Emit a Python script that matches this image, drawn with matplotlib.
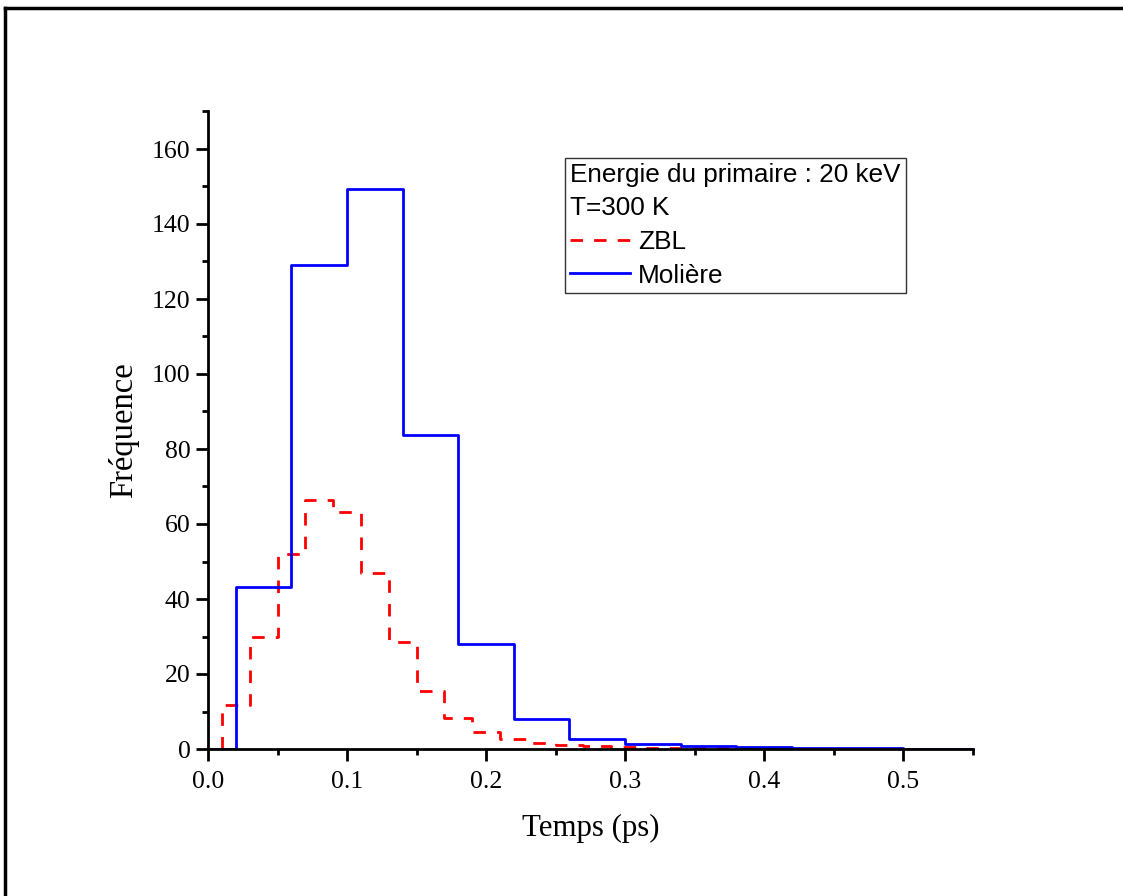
import matplotlib

matplotlib.use("Agg")
import matplotlib.pyplot as plt
from matplotlib.lines import Line2D
from matplotlib.ticker import MultipleLocator

# Molière histogram: bin edges (ps) and counts
moliere_edges = [0.00, 0.02, 0.06, 0.10, 0.14, 0.18, 0.22, 0.26, 0.30, 0.34,
                 0.38, 0.42, 0.46, 0.50, 0.55]
moliere_counts = [0.0, 43.2, 129.0, 149.3, 83.8, 28.1, 8.0, 2.8, 1.3, 0.8,
                  0.45, 0.25, 0.15, 0.1]

# ZBL histogram
zbl_edges = [0.01, 0.03, 0.05, 0.07, 0.09, 0.11, 0.13, 0.15, 0.17, 0.19,
             0.21, 0.23, 0.25, 0.27, 0.29, 0.31, 0.33, 0.35, 0.37, 0.39, 0.41]
zbl_counts = [11.8, 30.0, 52.0, 66.5, 63.2, 47.0, 28.5, 15.6, 8.2, 4.6,
              2.7, 1.7, 1.1, 0.8, 0.5, 0.35, 0.25, 0.2, 0.15, 0.1]

legend_title = "Energie du primaire : 20 keV\nT=300 K"


def step_xy(edges, counts):
    xs, ys = [edges[0]], [0.0]
    for i, c in enumerate(counts):
        xs += [edges[i], edges[i + 1]]
        ys += [c, c]
    return xs, ys


W, H = 1123, 896
fig = plt.figure(figsize=(W / 100, H / 100), dpi=100)
ax = fig.add_axes([208 / W, 1 - 749 / H, (972.5 - 208) / W, (749 - 111.5) / H])

zx, zy = step_xy(zbl_edges, zbl_counts)
mx, my = step_xy(moliere_edges, moliere_counts)
ax.plot(zx, zy, color="#ff0000", lw=2, ls=(0, (4.5, 4)), label="ZBL")
ax.plot(mx, my, color="#0000ff", lw=2, label="Molière")

ax.set_xlim(0, 0.55)
ax.set_ylim(0, 170)
ax.xaxis.set_major_locator(MultipleLocator(0.1))
ax.xaxis.set_minor_locator(MultipleLocator(0.05))
ax.yaxis.set_major_locator(MultipleLocator(20))
ax.yaxis.set_minor_locator(MultipleLocator(10))
ax.xaxis.set_major_formatter(matplotlib.ticker.FormatStrFormatter("%.1f"))

for side in ("top", "right"):
    ax.spines[side].set_visible(False)
for side in ("left", "bottom"):
    ax.spines[side].set_linewidth(2)
ax.tick_params(which="major", direction="out", length=8.6, width=2,
               labelsize=18.5)
ax.tick_params(which="minor", direction="out", length=4.5, width=2)
ax.tick_params(axis="x", which="major", pad=7)
ax.tick_params(axis="y", which="major", pad=4)
for lab in ax.get_xticklabels() + ax.get_yticklabels():
    lab.set_family("Liberation Serif")

ax.set_xlabel("Temps (ps)", family="Liberation Serif", fontsize=22.2, labelpad=15)
ax.set_ylabel("Fréquence", family="Liberation Serif", fontsize=23.5, labelpad=9)

leg = ax.legend(
    handles=[Line2D([], [], color="#ff0000", lw=2, ls=(0, (4.5, 4))),
             Line2D([], [], color="#0000ff", lw=2)],
    labels=["ZBL", "Molière"],
    title=legend_title, alignment="left",
    loc="upper left", bbox_to_anchor=(565 / W, 1 - 158 / H),
    bbox_transform=fig.transFigure,
    prop={"family": "Liberation Sans", "size": 18.8},
    title_fontproperties={"family": "Liberation Sans", "size": 18.8},
    frameon=True, fancybox=False, framealpha=1, edgecolor="#333333",
    borderpad=0.2, borderaxespad=0, handlelength=2.3, handletextpad=0.3,
    labelspacing=0.38,
)
leg.get_frame().set_linewidth(1)
leg.get_title().set_linespacing(1.45)

# outer frame (only top and left edges visible)
fig.add_artist(Line2D([5 / W, 1], [1 - 8 / H, 1 - 8 / H], color="black", lw=2.5,
                      transform=fig.transFigure))
fig.add_artist(Line2D([5 / W, 5 / W], [0, 1 - 8 / H], color="black", lw=2.5,
                      transform=fig.transFigure))

fig.savefig("out.png", dpi=100)
